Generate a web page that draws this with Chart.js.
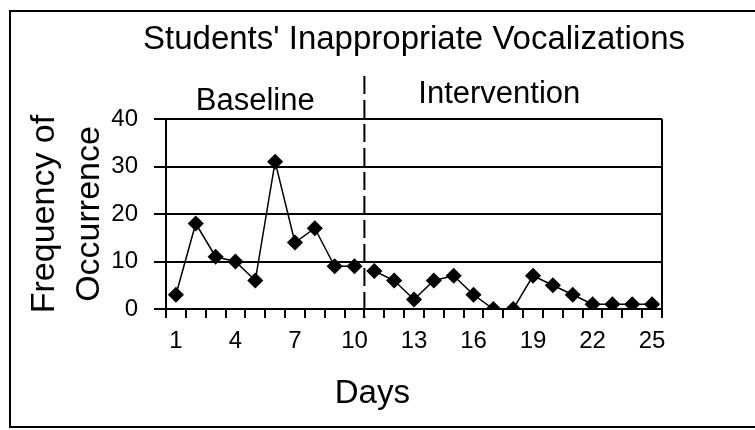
<!DOCTYPE html>
<html>
<head>
<meta charset="utf-8">
<script src="https://cdn.jsdelivr.net/npm/chart.js@4.4.0/dist/chart.umd.min.js"></script>
<style>
  html, body { margin: 0; padding: 0; background: #fff; }
</style>
</head>
<body>
<canvas id="chart" width="755" height="430"></canvas>
<script>
const days = ['1', '2', '3', '4', '5', '6', '7', '8', '9', '10', '11', '12', '13',
    '14', '15', '16', '17', '18', '19', '20', '21', '22', '23', '24', '25'];
const baselineValues = [3, 18, 11, 10, 6, 31, 14, 17, 9, 9];
const interventionValues = [8, 6, 2, 6, 7, 3, 0, 0, 7, 5, 3, 1, 1, 1, 1];
const yTicks = [0, 10, 20, 30, 40];
const chartTitle = "Students' Inappropriate Vocalizations";
const phaseLabels = ['Baseline', 'Intervention'];
const xTitle = 'Days';
const yTitle = ['Frequency of', 'Occurrence'];

const sans = '"Liberation Sans", Arial, sans-serif';
const narrow = '"Liberation Sans Narrow", "Arial Narrow", "Liberation Sans", sans-serif';

// split the one day axis into the two phases, nulls keep the lines apart
const nBase = baselineValues.length;
const baselineSeries = days.map((d, i) => i < nBase ? baselineValues[i] : null);
const interventionSeries = days.map((d, i) => i >= nBase ? interventionValues[i - nBase] : null);

const decorations = {
    id: 'decorations',
    beforeDraw(chart) {
        const ctx = chart.ctx;
        ctx.save();
        ctx.fillStyle = '#fff';
        ctx.fillRect(0, 0, chart.width, chart.height);
        ctx.restore();
    },
    afterDraw(chart) {
        const ctx = chart.ctx;
        const area = chart.chartArea;
        const x = chart.scales.x;
        ctx.save();
        ctx.strokeStyle = '#000';
        ctx.lineWidth = 2;

        // outer frame (open on the right, as in the scan)
        ctx.beginPath();
        ctx.moveTo(chart.width, 11);
        ctx.lineTo(10, 11);
        ctx.lineTo(10, 427);
        ctx.lineTo(chart.width, 427);
        ctx.stroke();

        // right edge of the plot box
        ctx.beginPath();
        ctx.moveTo(area.right, area.top);
        ctx.lineTo(area.right, area.bottom);
        ctx.stroke();

        // phase change line between day 10 and 11
        const divX = (x.getPixelForValue(nBase - 1) + x.getPixelForValue(nBase)) / 2;
        ctx.setLineDash([18, 6]);
        ctx.beginPath();
        ctx.moveTo(divX, 76);
        ctx.lineTo(divX, area.bottom + 9);
        ctx.stroke();
        ctx.setLineDash([]);

        ctx.fillStyle = '#000';
        ctx.textAlign = 'center';
        ctx.textBaseline = 'alphabetic';
        ctx.font = '33px ' + sans;
        ctx.fillText(chartTitle, (area.left + area.right) / 2, 49);
        ctx.font = '31px ' + sans;
        ctx.fillText(phaseLabels[0], x.getPixelForValue(4), 110);
        ctx.fillText(phaseLabels[1], x.getPixelForValue(16.3), 103);
        ctx.font = '33px ' + sans;
        ctx.fillText(xTitle, x.getPixelForValue(9.9), 403);
        ctx.restore();
    }
};

new Chart(document.getElementById('chart'), {
    type: 'line',
    data: {
        labels: days,
        datasets: [{
            label: phaseLabels[0],
            data: baselineSeries,
            borderColor: '#000',
            backgroundColor: '#000',
            borderWidth: 1.5,
            pointStyle: 'rectRot',
            pointRadius: 7,
            tension: 0,
            spanGaps: false
        }, {
            label: phaseLabels[1],
            data: interventionSeries,
            borderColor: '#000',
            backgroundColor: '#000',
            borderWidth: 1.5,
            pointStyle: 'rectRot',
            pointRadius: 7,
            tension: 0,
            spanGaps: false
        }]
    },
    options: {
        responsive: false,
        devicePixelRatio: 1,
        animation: false,
        layout: { padding: { left: 10, top: 119, right: 93, bottom: 61 } },
        plugins: {
            legend: { display: false },
            tooltip: { enabled: false },
            title: { display: false }
        },
        scales: {
            x: {
                offset: true,
                grid: { offset: true, drawOnChartArea: false, drawTicks: true, tickLength: 9, color: '#000', lineWidth: 2 },
                border: { display: true, color: '#000', width: 2 },
                ticks: {
                    autoSkip: false,
                    maxRotation: 0,
                    color: '#000',
                    padding: 9,
                    font: { family: narrow, size: 24 },
                    callback: (v, i) => i % 3 === 0 ? days[i] : ''
                },
                afterFit: (s) => { s.height = 60; }
            },
            y: {
                min: 0,
                max: 40,
                afterBuildTicks: (s) => { s.ticks = yTicks.map(v => ({ value: v })); },
                grid: { color: '#000', lineWidth: 2, tickLength: 12 },
                border: { display: true, color: '#000', width: 2 },
                ticks: { color: '#000', padding: 16, font: { family: narrow, size: 24 } },
                title: {
                    display: true,
                    text: yTitle,
                    color: '#000',
                    font: { family: sans, size: 34, lineHeight: 1.3 },
                    padding: { top: 13, bottom: 0 }
                },
                afterFit: (s) => { s.width = 156; }
            }
        }
    },
    plugins: [decorations]
});
</script>
</body>
</html>
